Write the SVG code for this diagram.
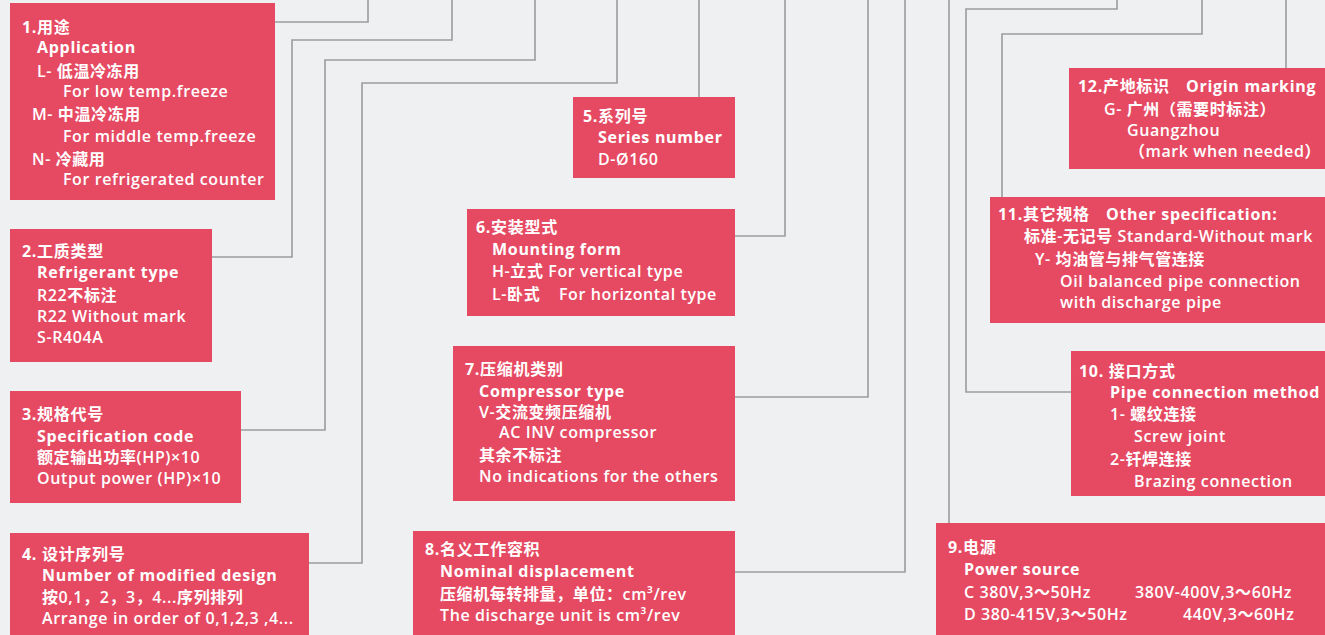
<svg xmlns="http://www.w3.org/2000/svg" width="1325" height="635" viewBox="0 0 1325 635">
<style>
.bg{fill:#eef0f1}
.box{fill:#e64a63}
.ln{fill:none;stroke:#9a9c9e;stroke-width:1.6}
text{font-family:"Open Sans","Noto Sans CJK SC",sans-serif;font-size:16px;fill:#ffffff;letter-spacing:0.6px;font-weight:600}
.b{font-weight:700;letter-spacing:0.7px}
</style>
<rect class="bg" x="0" y="0" width="1325" height="635"/>
<g id="connectors">
<path class="ln" d="M275,22 H368 V0"/>
<path class="ln" d="M212,257 H292 V40 H452 V0"/>
<path class="ln" d="M241,430 H325 V60 H535 V0"/>
<path class="ln" d="M309,563 H362 V83 H617 V0"/>
<path class="ln" d="M699,97 V0"/>
<path class="ln" d="M735,236 H785 V0"/>
<path class="ln" d="M735,397 H868 V0"/>
<path class="ln" d="M735,572 H905 V0"/>
<path class="ln" d="M949,523 V0"/>
<path class="ln" d="M1071,392 H966 V9 H1117 V0"/>
<path class="ln" d="M1002,197 V34 H1202 V0"/>
<path class="ln" d="M1286,68 V0"/>
</g>
<g id="node1">
<rect class="box" x="10" y="3" width="265" height="197"/>
<text class="b" x="22" y="33">1.用途</text>
<text class="b" x="37" y="53">Application</text>
<text x="37" y="77">L- 低温冷冻用</text>
<text x="63" y="97">For low temp.freeze</text>
<text x="32" y="120">M- 中温冷冻用</text>
<text x="63" y="142">For middle temp.freeze</text>
<text x="32" y="165">N- 冷藏用</text>
<text x="63" y="185">For refrigerated counter</text>
</g>
<g id="node2">
<rect class="box" x="10" y="229" width="202" height="133"/>
<text class="b" x="22" y="257">2.工质类型</text>
<text class="b" x="37" y="278">Refrigerant type</text>
<text x="37" y="301">R22不标注</text>
<text x="37" y="322">R22 Without mark</text>
<text x="37" y="343">S-R404A</text>
</g>
<g id="node3">
<rect class="box" x="10" y="391" width="231" height="112"/>
<text class="b" x="22" y="420">3.规格代号</text>
<text class="b" x="37" y="442">Specification code</text>
<text x="37" y="463">额定输出功率(HP)×10</text>
<text x="37" y="484">Output power (HP)×10</text>
</g>
<g id="node4">
<rect class="box" x="10" y="533" width="299" height="102"/>
<text class="b" x="22" y="560">4. 设计序列号</text>
<text class="b" x="42" y="581">Number of modified design</text>
<text x="42" y="603">按0,1，2，3，4...序列排列</text>
<text x="42" y="624">Arrange in order of 0,1,2,3 ,4...</text>
</g>
<g id="node5">
<rect class="box" x="573" y="97" width="162" height="81"/>
<text class="b" x="583" y="122">5.系列号</text>
<text class="b" x="598" y="143">Series number</text>
<text x="598" y="165">D-Ø160</text>
</g>
<g id="node6">
<rect class="box" x="467" y="209" width="268" height="107"/>
<text class="b" x="476" y="233">6.安装型式</text>
<text class="b" x="492" y="255">Mounting form</text>
<text x="492" y="277">H-立式 For vertical type</text>
<text x="492" y="300">L-卧式<tspan x="559">For horizontal type</tspan></text>
</g>
<g id="node7">
<rect class="box" x="453" y="346" width="282" height="155"/>
<text class="b" x="465" y="375">7.压缩机类别</text>
<text class="b" x="479" y="397">Compressor type</text>
<text x="479" y="418">V-交流变频压缩机</text>
<text x="499" y="438">AC INV compressor</text>
<text x="479" y="461">其余不标注</text>
<text x="479" y="482">No indications for the others</text>
</g>
<g id="node8">
<rect class="box" x="413" y="531" width="322" height="104"/>
<text class="b" x="425" y="555">8.名义工作容积</text>
<text class="b" x="440" y="577">Nominal displacement</text>
<text x="440" y="600">压缩机每转排量，单位：cm³/rev</text>
<text x="440" y="621">The discharge unit is cm³/rev</text>
</g>
<g id="node12">
<rect class="box" x="1069" y="68" width="256" height="101"/>
<text class="b" x="1078" y="92">12.产地标识<tspan x="1186">Origin marking</tspan></text>
<text x="1104" y="115">G- 广州（需要时标注）</text>
<text x="1127" y="136">Guangzhou</text>
<text x="1129" y="157">（mark when needed）</text>
</g>
<g id="node11">
<rect class="box" x="990" y="197" width="335" height="126"/>
<text class="b" x="998" y="220">11.其它规格<tspan x="1106">Other specification:</tspan></text>
<text x="1024" y="242">标准-无记号 Standard-Without mark</text>
<text x="1035" y="265">Y- 均油管与排气管连接</text>
<text x="1060" y="287">Oil balanced pipe connection</text>
<text x="1060" y="308">with discharge pipe</text>
</g>
<g id="node10">
<rect class="box" x="1071" y="351" width="254" height="145"/>
<text class="b" x="1079" y="377">10. 接口方式</text>
<text class="b" x="1110" y="398">Pipe connection method</text>
<text x="1110" y="420">1- 螺纹连接</text>
<text x="1134" y="442">Screw joint</text>
<text x="1110" y="465">2-钎焊连接</text>
<text x="1134" y="487">Brazing connection</text>
</g>
<g id="node9">
<rect class="box" x="936" y="523" width="389" height="112"/>
<text class="b" x="948" y="553">9.电源</text>
<text class="b" x="964" y="575">Power source</text>
<text x="964" y="598">C 380V,3～50Hz</text>
<text x="1135" y="598">380V-400V,3～60Hz</text>
<text x="964" y="620">D 380-415V,3～50Hz</text>
<text x="1183" y="620">440V,3～60Hz</text>
</g>
</svg>
